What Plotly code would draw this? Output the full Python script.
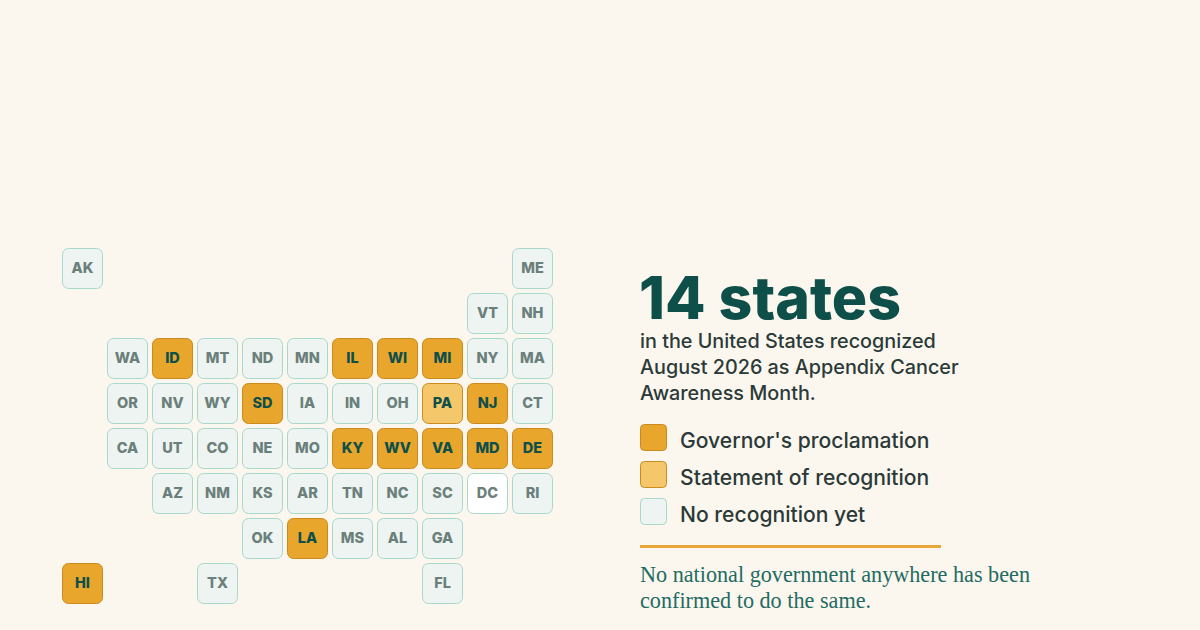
import plotly.graph_objects as go

# tile grid, one list per row, each entry is (state, column)
row_0 = [("AK", 0), ("ME", 10)]
row_1 = [("VT", 9), ("NH", 10)]
row_2 = [("WA", 1), ("ID", 2), ("MT", 3), ("ND", 4), ("MN", 5), ("IL", 6), ("WI", 7), ("MI", 8), ("NY", 9), ("MA", 10)]
row_3 = [("OR", 1), ("NV", 2), ("WY", 3), ("SD", 4), ("IA", 5), ("IN", 6), ("OH", 7), ("PA", 8), ("NJ", 9), ("CT", 10)]
row_4 = [("CA", 1), ("UT", 2), ("CO", 3), ("NE", 4), ("MO", 5), ("KY", 6), ("WV", 7), ("VA", 8), ("MD", 9), ("DE", 10)]
row_5 = [("AZ", 2), ("NM", 3), ("KS", 4), ("AR", 5), ("TN", 6), ("NC", 7), ("SC", 8), ("DC", 9), ("RI", 10)]
row_6 = [("OK", 4), ("LA", 5), ("MS", 6), ("AL", 7), ("GA", 8)]
row_7 = [("HI", 0), ("TX", 3), ("FL", 8)]
rows = [row_0, row_1, row_2, row_3, row_4, row_5, row_6, row_7]

proclamation = ["ID", "IL", "WI", "MI", "SD", "NJ", "KY", "WV", "VA", "MD", "DE", "LA", "HI"]
statement = ["PA"]
blank_tile = ["DC"]

headline = "14 states"
intro_lines = ["in the United States recognized", "August 2026 as Appendix Cancer", "Awareness Month."]
legend_labels = ["Governor's proclamation", "Statement of recognition", "No recognition yet"]
note_lines = ["No national government anywhere has been", "confirmed to do the same."]

BG = "#FBF7EF"
GOLD = "#E8A62C"
GOLD_LINE = "#C98A1E"
LIGHT_GOLD = "#F5C76B"
PALE = "#EDF4F1"
PALE_LINE = "#A8D8CC"
DARK = "#0F4F4A"
MUTED = "#6B7F7B"
INK = "#2B3A38"
NOTE = "#236B62"
SANS = "Inter"
SERIF = "Liberation Serif"

# axes are in page pixels, tiles step by 45
LEFT = 62.5
TOP = 248.5
PITCH = 45
TILE = 40


def tile_style(state):
    if state in proclamation:
        return GOLD, GOLD_LINE, DARK
    if state in statement:
        return LIGHT_GOLD, GOLD_LINE, DARK
    if state in blank_tile:
        return "#FFFFFF", PALE_LINE, MUTED
    return PALE, PALE_LINE, MUTED


def add_text(fig, x, y, text, size, color, family=SANS, weight=400):
    fig.add_trace(go.Scatter(
        x=x, y=y, text=text, mode="text",
        textposition="middle right",
        textfont=dict(family=family, size=size, color=color, weight=weight)))


xs, ys, fills, lines, labels, label_colors = [], [], [], [], [], []
for r, row in enumerate(rows):
    for state, col in row:
        fill, line, ink = tile_style(state)
        xs.append(LEFT + col * PITCH + TILE / 2)
        ys.append(TOP + r * PITCH)
        fills.append(fill)
        lines.append(line)
        labels.append(state)
        label_colors.append(ink)

fig = go.Figure()
fig.add_trace(go.Bar(
    x=xs, y=[TILE] * len(xs), base=ys, width=TILE,
    marker=dict(color=fills, line=dict(color=lines, width=1), cornerradius=6)))
fig.add_trace(go.Scatter(
    x=xs, y=[y + TILE / 2 + 1 for y in ys], text=labels, mode="text",
    textposition="middle center",
    textfont=dict(family=SANS, size=14.5, color=label_colors, weight=800)))

# legend swatches
swatch_fill = [GOLD, LIGHT_GOLD, PALE]
swatch_line = [GOLD_LINE, GOLD_LINE, PALE_LINE]
swatch_y = [424.5, 461.5, 498.5]
fig.add_trace(go.Bar(
    x=[653.5] * 3, y=[26] * 3, base=swatch_y, width=26,
    marker=dict(color=swatch_fill, line=dict(color=swatch_line, width=1), cornerradius=4)))

add_text(fig, [639], [304], [headline], 59, DARK, weight=800)
add_text(fig, [640] * 3, [343, 369, 395], intro_lines, 19.8, INK, weight=500)
add_text(fig, [680] * 3, [443, 480, 517], legend_labels, 21.1, INK, weight=500)
add_text(fig, [640] * 2, [576, 602], note_lines, 22.2, NOTE, family=SERIF)

fig.update_layout(
    width=1200, height=630,
    margin=dict(l=0, r=0, t=0, b=0),
    paper_bgcolor=BG, plot_bgcolor=BG,
    barmode="overlay", showlegend=False, hovermode=False,
    xaxis=dict(range=[0, 1200], visible=False, fixedrange=True),
    yaxis=dict(range=[630, 0], visible=False, fixedrange=True),
    shapes=[dict(type="line", xref="x", yref="y", x0=640, x1=941, y0=546.5, y1=546.5,
                 line=dict(color="#E8A838", width=3))])

fig.write_html("out.html", config=dict(displayModeBar=False),
               post_script="document.body.style.margin = '0';")
